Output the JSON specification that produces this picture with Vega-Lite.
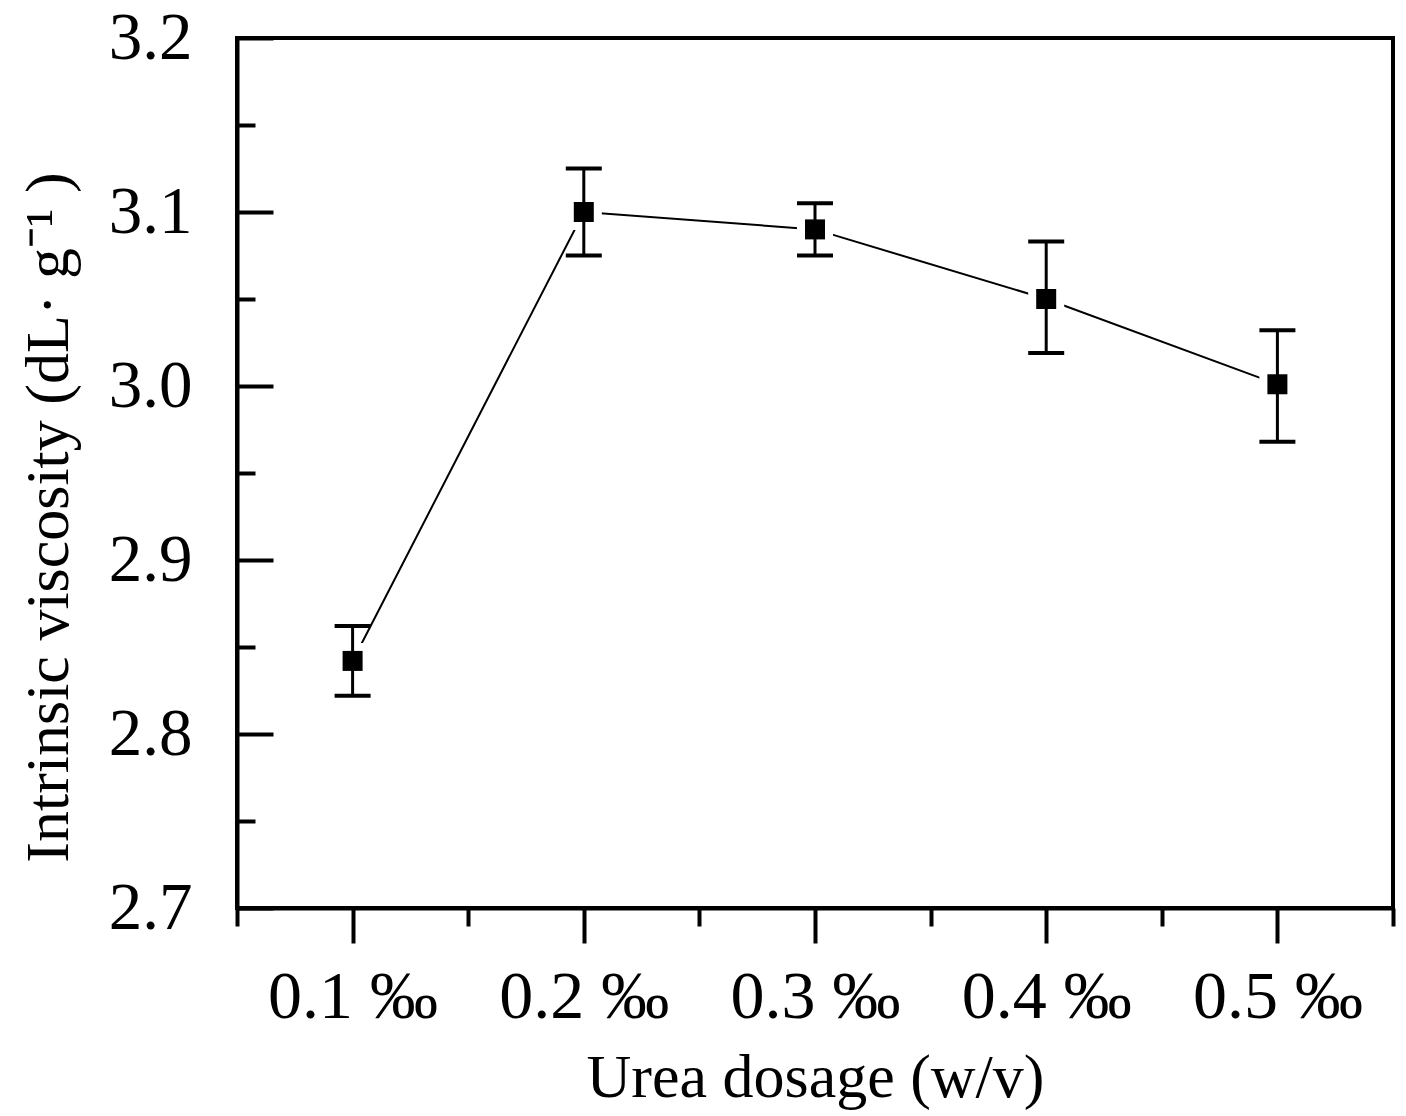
{
  "$schema": "https://vega.github.io/schema/vega-lite/v6.json",
  "autosize": {"type": "none"},
  "padding": {"left": 237, "top": 38, "right": 13, "bottom": 208},
  "width": 1156,
  "height": 870,
  "background": "white",
  "data": {
    "values": [
      {"dosage": 0.1, "viscosity": 2.842, "lo": 2.822, "hi": 2.862},
      {"dosage": 0.2, "viscosity": 3.100, "lo": 3.075, "hi": 3.125},
      {"dosage": 0.3, "viscosity": 3.090, "lo": 3.075, "hi": 3.105},
      {"dosage": 0.4, "viscosity": 3.050, "lo": 3.019, "hi": 3.083},
      {"dosage": 0.5, "viscosity": 3.001, "lo": 2.968, "hi": 3.032}
    ]
  },
  "layer": [
    {
      "mark": {"type": "line", "color": "black", "strokeWidth": 2},
      "encoding": {
        "x": {
          "field": "dosage", "type": "quantitative",
          "scale": {"domain": [0.05, 0.55], "nice": false, "zero": false},
          "axis": {
            "orient": "bottom",
            "values": [0.1, 0.2, 0.3, 0.4, 0.5],
            "labelExpr": "format(datum.value, '.1f') + ' ‰'",
            "tickSize": 35, "tickWidth": 4, "tickColor": "black",
            "domainWidth": 4, "domainColor": "black",
            "labelPadding": 20, "labelFontSize": 68,
            "labelFont": "Liberation Serif", "labelColor": "black",
            "grid": false,
            "title": "Urea dosage (w/v)",
            "titleFont": "Liberation Serif", "titleFontSize": 62,
            "titleFontWeight": "normal", "titleColor": "black",
            "titleBaseline": "alphabetic", "titleY": 188
          }
        },
        "y": {
          "field": "viscosity", "type": "quantitative",
          "scale": {"domain": [2.7, 3.2], "nice": false, "zero": false},
          "axis": {
            "orient": "left",
            "values": [2.7, 2.8, 2.9, 3.0, 3.1, 3.2],
            "format": ".1f",
            "tickSize": -36, "tickWidth": 4, "tickColor": "black",
            "domainWidth": 4, "domainColor": "black",
            "labelPadding": 81, "labelFontSize": 67,
            "labelFont": "Liberation Serif", "labelColor": "black",
            "grid": false,
            "title": "Intrinsic viscosity (dL· g⁻¹ )",
            "titleFont": "Liberation Serif", "titleFontSize": 62,
            "titleFontWeight": "normal", "titleColor": "black",
            "titleAngle": -90, "titleBaseline": "alphabetic",
            "titleX": -170, "titleY": 479
          }
        }
      }
    },
    {
      "mark": {"type": "point", "shape": "square", "filled": true, "color": "white", "opacity": 1, "size": 1300},
      "encoding": {
        "x": {
          "field": "dosage", "type": "quantitative",
          "axis": {
            "orient": "bottom",
            "values": [0.05, 0.15, 0.25, 0.35, 0.45, 0.55],
            "tickSize": 18, "tickWidth": 4, "tickColor": "black",
            "domain": false, "labels": false, "grid": false, "title": null
          }
        },
        "y": {
          "field": "viscosity", "type": "quantitative",
          "axis": {
            "orient": "left",
            "values": [2.75, 2.85, 2.95, 3.05, 3.15],
            "tickSize": -18, "tickWidth": 4, "tickColor": "black",
            "domain": false, "labels": false, "grid": false, "title": null
          }
        }
      }
    },
    {
      "mark": {"type": "rule", "color": "black", "strokeWidth": 3},
      "encoding": {
        "x": {"field": "dosage", "type": "quantitative", "axis": null},
        "y": {"field": "lo", "type": "quantitative", "axis": null},
        "y2": {"field": "hi"}
      }
    },
    {
      "mark": {"type": "tick", "orient": "horizontal", "color": "black", "opacity": 1, "size": 36, "thickness": 4},
      "encoding": {
        "x": {"field": "dosage", "type": "quantitative", "axis": null},
        "y": {"field": "lo", "type": "quantitative", "axis": null}
      }
    },
    {
      "mark": {"type": "tick", "orient": "horizontal", "color": "black", "opacity": 1, "size": 36, "thickness": 4},
      "encoding": {
        "x": {"field": "dosage", "type": "quantitative", "axis": null},
        "y": {"field": "hi", "type": "quantitative", "axis": null}
      }
    },
    {
      "mark": {"type": "point", "shape": "square", "filled": true, "color": "black", "opacity": 1, "size": 400},
      "encoding": {
        "x": {"field": "dosage", "type": "quantitative", "axis": null},
        "y": {"field": "viscosity", "type": "quantitative", "axis": null}
      }
    }
  ],
  "resolve": {"axis": {"x": "independent", "y": "independent"}},
  "config": {
    "view": {"stroke": "black", "strokeWidth": 4}
  }
}
